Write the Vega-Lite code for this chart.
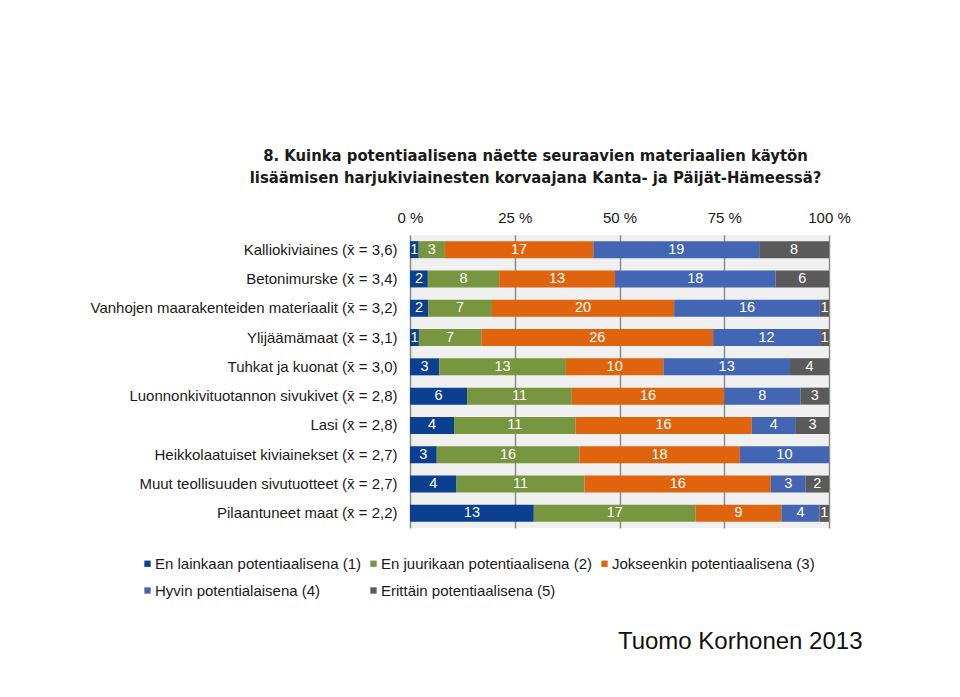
{
  "$schema": "https://vega.github.io/schema/vega-lite/v6.json",
  "autosize": {"type": "none"},
  "width": 419,
  "height": 293,
  "padding": {"left": 410, "top": 235, "right": 131, "bottom": 169},
  "background": "#ffffff",
  "title": {
    "text": ["8. Kuinka potentiaalisena näette seuraavien materiaalien käytön", "lisäämisen harjukiviainesten korvaajana Kanta- ja Päijät-Hämeessä?"],
    "anchor": "middle",
    "dx": -84,
    "offset": 24,
    "font": "DejaVu Sans Condensed, sans-serif",
    "fontSize": 16.5,
    "fontWeight": "bold",
    "color": "#1a1a1a",
    "lineHeight": 22
  },
  "config": {
    "view": {"fill": "#f0f0f0", "stroke": null},
    "font": "Liberation Sans",
    "axis": {"labelFont": "Liberation Sans", "titleFont": "Liberation Sans"},
    "legend": {"labelFont": "Liberation Sans"}
  },
  "data": {
    "values": [
      {"item": "Kalliokiviaines (x̄ = 3,6)", "k": 1, "n": 1}, {"item": "Kalliokiviaines (x̄ = 3,6)", "k": 2, "n": 3}, {"item": "Kalliokiviaines (x̄ = 3,6)", "k": 3, "n": 17}, {"item": "Kalliokiviaines (x̄ = 3,6)", "k": 4, "n": 19}, {"item": "Kalliokiviaines (x̄ = 3,6)", "k": 5, "n": 8},
      {"item": "Betonimurske (x̄ = 3,4)", "k": 1, "n": 2}, {"item": "Betonimurske (x̄ = 3,4)", "k": 2, "n": 8}, {"item": "Betonimurske (x̄ = 3,4)", "k": 3, "n": 13}, {"item": "Betonimurske (x̄ = 3,4)", "k": 4, "n": 18}, {"item": "Betonimurske (x̄ = 3,4)", "k": 5, "n": 6},
      {"item": "Vanhojen maarakenteiden materiaalit (x̄ = 3,2)", "k": 1, "n": 2}, {"item": "Vanhojen maarakenteiden materiaalit (x̄ = 3,2)", "k": 2, "n": 7}, {"item": "Vanhojen maarakenteiden materiaalit (x̄ = 3,2)", "k": 3, "n": 20}, {"item": "Vanhojen maarakenteiden materiaalit (x̄ = 3,2)", "k": 4, "n": 16}, {"item": "Vanhojen maarakenteiden materiaalit (x̄ = 3,2)", "k": 5, "n": 1},
      {"item": "Ylijäämämaat (x̄ = 3,1)", "k": 1, "n": 1}, {"item": "Ylijäämämaat (x̄ = 3,1)", "k": 2, "n": 7}, {"item": "Ylijäämämaat (x̄ = 3,1)", "k": 3, "n": 26}, {"item": "Ylijäämämaat (x̄ = 3,1)", "k": 4, "n": 12}, {"item": "Ylijäämämaat (x̄ = 3,1)", "k": 5, "n": 1},
      {"item": "Tuhkat ja kuonat (x̄ = 3,0)", "k": 1, "n": 3}, {"item": "Tuhkat ja kuonat (x̄ = 3,0)", "k": 2, "n": 13}, {"item": "Tuhkat ja kuonat (x̄ = 3,0)", "k": 3, "n": 10}, {"item": "Tuhkat ja kuonat (x̄ = 3,0)", "k": 4, "n": 13}, {"item": "Tuhkat ja kuonat (x̄ = 3,0)", "k": 5, "n": 4},
      {"item": "Luonnonkivituotannon sivukivet (x̄ = 2,8)", "k": 1, "n": 6}, {"item": "Luonnonkivituotannon sivukivet (x̄ = 2,8)", "k": 2, "n": 11}, {"item": "Luonnonkivituotannon sivukivet (x̄ = 2,8)", "k": 3, "n": 16}, {"item": "Luonnonkivituotannon sivukivet (x̄ = 2,8)", "k": 4, "n": 8}, {"item": "Luonnonkivituotannon sivukivet (x̄ = 2,8)", "k": 5, "n": 3},
      {"item": "Lasi (x̄ = 2,8)", "k": 1, "n": 4}, {"item": "Lasi (x̄ = 2,8)", "k": 2, "n": 11}, {"item": "Lasi (x̄ = 2,8)", "k": 3, "n": 16}, {"item": "Lasi (x̄ = 2,8)", "k": 4, "n": 4}, {"item": "Lasi (x̄ = 2,8)", "k": 5, "n": 3},
      {"item": "Heikkolaatuiset kiviainekset (x̄ = 2,7)", "k": 1, "n": 3}, {"item": "Heikkolaatuiset kiviainekset (x̄ = 2,7)", "k": 2, "n": 16}, {"item": "Heikkolaatuiset kiviainekset (x̄ = 2,7)", "k": 3, "n": 18}, {"item": "Heikkolaatuiset kiviainekset (x̄ = 2,7)", "k": 4, "n": 10},
      {"item": "Muut teollisuuden sivutuotteet (x̄ = 2,7)", "k": 1, "n": 4}, {"item": "Muut teollisuuden sivutuotteet (x̄ = 2,7)", "k": 2, "n": 11}, {"item": "Muut teollisuuden sivutuotteet (x̄ = 2,7)", "k": 3, "n": 16}, {"item": "Muut teollisuuden sivutuotteet (x̄ = 2,7)", "k": 4, "n": 3}, {"item": "Muut teollisuuden sivutuotteet (x̄ = 2,7)", "k": 5, "n": 2},
      {"item": "Pilaantuneet maat (x̄ = 2,2)", "k": 1, "n": 13}, {"item": "Pilaantuneet maat (x̄ = 2,2)", "k": 2, "n": 17}, {"item": "Pilaantuneet maat (x̄ = 2,2)", "k": 3, "n": 9}, {"item": "Pilaantuneet maat (x̄ = 2,2)", "k": 4, "n": 4}, {"item": "Pilaantuneet maat (x̄ = 2,2)", "k": 5, "n": 1}
    ]
  },
  "transform": [
    {"stack": "n", "groupby": ["item"], "sort": [{"field": "k", "order": "ascending"}], "offset": "normalize", "as": ["x0", "x1"]}
  ],
  "resolve": {"axis": {"x": "independent"}},
  "layer": [
    {
      "mark": {"type": "bar"},
      "encoding": {
        "y": {"field": "item", "type": "nominal", "sort": null,
          "scale": {"paddingInner": 0.42, "paddingOuter": 0.21},
          "axis": {"title": null, "domain": false, "ticks": false, "labelFontSize": 15, "labelLimit": 0, "labelColor": "#1a1a1a", "labelPadding": 13}},
        "x": {"field": "x0", "type": "quantitative",
          "scale": {"domain": [0, 1], "nice": false},
          "axis": {"orient": "top", "title": null, "values": [0, 0.25, 0.5, 0.75, 1], "labelExpr": "round(datum.value*100) + ' %'", "labelFlush": false, "labelFontSize": 15, "labelColor": "#1a1a1a", "labelPadding": 10, "domain": false, "ticks": false, "grid": true, "gridColor": "#8c8c8c", "gridWidth": 1.5}},
        "x2": {"field": "x1"},
        "color": {"field": "k", "type": "ordinal",
          "scale": {"domain": [1, 2, 3, 4, 5], "range": ["#0b3f8f", "#77963f", "#e0640e", "#4266b3", "#5a5a5a"]},
          "legend": {"title": null, "orient": "none", "legendX": -270, "legendY": 321, "direction": "horizontal", "columns": 3, "columnPadding": 5, "rowPadding": 11, "symbolType": "square", "symbolSize": 40, "symbolStrokeWidth": 0, "labelFontSize": 15, "labelLimit": 0, "labelColor": "#1a1a1a", "labelOffset": 0,
            "labelExpr": "['', 'En lainkaan potentiaalisena (1)', 'En juurikaan potentiaalisena (2)', 'Jokseenkin potentiaalisena (3)', 'Hyvin potentialaisena (4)', 'Erittäin potentiaalisena (5)'][datum.value]"}}
      }
    },
    {
      "transform": [{"fold": ["x0", "x1"], "as": ["bound", "pos"]}],
      "mark": {"type": "text", "color": "#ffffff", "fontSize": 14.5, "baseline": "middle", "align": "center"},
      "encoding": {
        "y": {"field": "item", "type": "nominal", "sort": null},
        "x": {"aggregate": "mean", "field": "pos", "type": "quantitative", "stack": null,
          "axis": {"orient": "bottom", "title": "Tuomo Korhonen 2013", "labels": false, "ticks": false, "domain": false, "grid": false, "titleFontSize": 24, "titleFontWeight": "normal", "titleColor": "#111111", "titleAlign": "right", "titleAnchor": "end", "titleBaseline": "alphabetic", "titleX": 452, "titleY": 120}},
        "text": {"field": "n", "type": "quantitative"},
        "detail": {"field": "k", "type": "ordinal"}
      }
    }
  ]
}
